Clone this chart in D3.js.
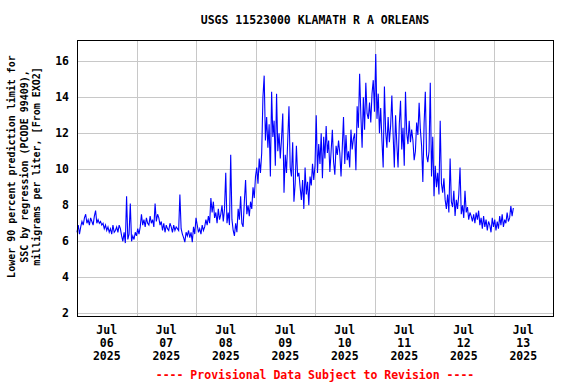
<!DOCTYPE html>
<html>
<head>
<meta charset="utf-8">
<script src="https://cdn.jsdelivr.net/npm/d3@7"></script>
<style>
  body { margin: 0; background: #fff; }
  text { font-family: "DejaVu Sans Mono", monospace; font-weight: bold; }
</style>
</head>
<body>
<div id="vis"></div>
<script>
// chart values, one reading every 30 minutes starting Jul 06 00:00
const jul06 = [6.5, 6.9, 6.4, 6.8, 7.1, 6.9, 7.3, 7.5, 7.0, 7.2, 6.9, 7.3,
               7.1, 6.9, 7.4, 7.7, 7.0, 7.2, 7.0, 7.1, 6.9, 7.0, 6.7, 6.9,
               6.6, 6.8, 6.5, 6.7, 6.4, 6.9, 6.5, 6.6, 6.8, 6.5, 6.9, 6.7,
               6.3, 6.0, 6.5, 5.9, 8.5, 6.1, 6.4, 8.1, 6.0, 6.3, 6.1, 6.5];
const jul07 = [6.3, 6.7, 6.4, 6.8, 7.5, 6.9, 7.2, 6.8, 7.3, 7.0, 6.9, 7.4,
               7.0, 7.2, 6.8, 8.1, 7.1, 7.5, 7.3, 6.9, 7.1, 6.6, 7.0, 6.5,
               6.9, 6.7, 6.6, 7.0, 6.8, 6.5, 6.9, 6.6, 6.8, 6.7, 6.6, 8.6,
               6.7, 6.4, 6.2, 5.95, 6.5, 6.3, 6.6, 6.2, 6.5, 5.95, 6.8, 6.4];
const jul08 = [7.3, 6.9, 6.5, 6.7, 6.4, 6.9, 6.6, 6.8, 7.2, 6.9, 7.4, 7.0,
               8.4, 7.6, 8.2, 7.3, 7.6, 7.0, 7.8, 7.2, 7.5, 8.0, 7.1, 7.8,
               9.8, 7.0, 7.6, 6.9, 10.8, 7.2, 6.6, 6.3, 7.0, 6.5, 7.8, 7.2,
               8.5, 7.0, 6.8, 8.2, 9.4, 7.5, 8.0, 7.4, 8.2, 7.8, 9.0, 8.4];
const jul09 = [9.6, 10.1, 9.2, 10.6, 9.8, 10.9, 14.0, 15.2, 11.6, 12.9, 11.2, 12.5,
               9.6, 14.3, 11.8, 12.7, 10.2, 14.2, 11.0, 12.0, 10.6, 11.7, 13.1, 8.7,
               10.8, 9.8, 11.6, 13.5, 10.1, 9.6, 11.5, 8.2, 9.2, 11.3, 9.6, 9.8,
               9.0, 8.3, 9.4, 7.8, 10.1, 8.6, 9.3, 8.0, 9.6, 9.1, 10.3, 9.4];
const jul10 = [10.2, 13.0, 9.8, 11.4, 10.3, 12.0, 9.5, 11.8, 10.6, 12.4, 10.9, 11.6,
               9.85, 11.0, 12.2, 10.4, 9.7, 11.3, 10.8, 11.6, 10.9, 9.6, 11.2, 12.9,
               10.3, 11.9, 10.5, 11.0, 10.1, 12.2, 11.1, 11.7, 12.0, 9.95, 13.5, 12.3,
               15.3, 13.0, 11.2, 14.0, 12.2, 14.8, 13.1, 12.8, 13.7, 12.6, 14.2, 14.95];
const jul11 = [13.2, 16.4, 12.8, 14.2, 12.0, 13.4, 11.6, 10.1, 14.6, 12.1, 11.2, 12.9,
               11.5, 12.4, 14.1, 12.0, 10.1, 13.0, 11.4, 10.1, 12.5, 13.8, 11.1, 12.3,
               10.2, 14.3, 12.0, 11.4, 12.7, 11.5, 12.2, 11.6, 10.5, 11.0, 12.6, 11.9,
               13.7, 12.2, 11.3, 9.3, 12.5, 14.3, 10.8, 10.4, 11.0, 14.8, 9.6, 11.8];
const jul12 = [8.5, 10.2, 9.0, 9.8, 8.6, 12.7, 9.2, 8.7, 9.5, 8.3, 7.8, 8.6,
               7.6, 10.6, 8.2, 7.9, 8.8, 7.4, 8.3, 7.8, 8.6, 10.1, 7.5, 8.0,
               7.3, 8.8, 7.6, 7.9, 7.2, 7.6, 7.4, 7.1, 7.5, 7.0, 7.6, 7.2,
               7.7, 6.9, 7.3, 6.7, 7.4, 6.8, 7.2, 6.6, 7.1, 6.9, 6.5, 7.3];
const jul13 = [6.8, 7.2, 6.6, 7.1, 6.7, 7.4, 6.9, 7.5, 6.8, 7.2, 7.0, 7.6,
               7.1, 7.3, 7.95, 7.4, 7.85];

const DAY_LABELS = ["06", "07", "08", "09", "10", "11", "12", "13"];
const Y_TICKS = [2, 4, 6, 8, 10, 12, 14, 16];
const TITLE = "USGS 11523000 KLAMATH R A ORLEANS";
const Y_LABEL = ["Lower 90 percent prediction limit for",
                 "SSC by regression (PCODE 99409),",
                 "milligrams per liter, [From EXO2]"];
const FOOTER = "---- Provisional Data Subject to Revision ----";

// frame
const FRAME_WIDTH = 576;
const FRAME_HEIGHT = 384;
const PLOT = {left: 77, right: 553, top: 40, bottom: 316};

const START = Date.UTC(2025, 6, 6);
const STEP = 30 * 60 * 1000;
const values = [].concat(jul06, jul07, jul08, jul09, jul10, jul11, jul12, jul13);
const data = values.map((v, i) => ({t: new Date(START + i * STEP), v: v}));

const svg = d3.select("#vis")
              .append("svg")
              .attr("width", FRAME_WIDTH)
              .attr("height", FRAME_HEIGHT);

svg.append("rect")
   .attr("width", FRAME_WIDTH)
   .attr("height", FRAME_HEIGHT)
   .attr("fill", "#fff");

const X_SCALE = d3.scaleUtc()
                  .domain([new Date(START), new Date(Date.UTC(2025, 6, 14))])
                  .range([PLOT.left, PLOT.right]);

const Y_SCALE = d3.scaleLinear()
                  .domain([1.85, 17.18])
                  .range([PLOT.bottom, PLOT.top]);

// grid lines
const dayLines = d3.utcDay.range(new Date(Date.UTC(2025, 6, 7)), new Date(Date.UTC(2025, 6, 14)));
svg.append("g")
   .selectAll("line")
   .data(dayLines)
   .join("line")
     .attr("x1", (d) => Math.round(X_SCALE(d)) + 0.5)
     .attr("x2", (d) => Math.round(X_SCALE(d)) + 0.5)
     .attr("y1", PLOT.top)
     .attr("y2", PLOT.bottom)
     .attr("stroke", "#c8c8c8")
     .attr("stroke-width", 1);

svg.append("g")
   .selectAll("line")
   .data(Y_TICKS)
   .join("line")
     .attr("x1", PLOT.left)
     .attr("x2", PLOT.right)
     .attr("y1", (d) => Math.round(Y_SCALE(d)) + 0.5)
     .attr("y2", (d) => Math.round(Y_SCALE(d)) + 0.5)
     .attr("stroke", "#c8c8c8")
     .attr("stroke-width", 1);

// data line
const line = d3.line()
               .x((d) => X_SCALE(d.t))
               .y((d) => Y_SCALE(d.v));

svg.append("path")
   .datum(data)
   .attr("d", line)
   .attr("fill", "none")
   .attr("stroke", "#0000ff")
   .attr("stroke-width", 1.1);

// frame border
svg.append("rect")
   .attr("x", PLOT.left + 0.5)
   .attr("y", PLOT.top + 0.5)
   .attr("width", PLOT.right - PLOT.left)
   .attr("height", PLOT.bottom - PLOT.top)
   .attr("fill", "none")
   .attr("stroke", "#000")
   .attr("stroke-width", 1);

// y tick labels
svg.append("g")
   .selectAll("text")
   .data(Y_TICKS)
   .join("text")
     .attr("x", 69)
     .attr("y", (d) => Y_SCALE(d) + 4)
     .attr("text-anchor", "end")
     .attr("font-size", "11.5px")
     .text((d) => d);

// x tick labels, centred at noon of each day
const noons = DAY_LABELS.map((d, i) => new Date(START + i * 86400000 + 43200000));
const xLab = svg.append("g")
                .selectAll("text")
                .data(noons)
                .join("text")
                  .attr("text-anchor", "middle")
                  .attr("font-size", "11.5px");
xLab.append("tspan").attr("x", (d) => X_SCALE(d)).attr("y", 334).text("Jul");
xLab.append("tspan").attr("x", (d) => X_SCALE(d)).attr("y", 347).text((d, i) => DAY_LABELS[i]);
xLab.append("tspan").attr("x", (d) => X_SCALE(d)).attr("y", 360).text("2025");

// title
svg.append("text")
   .attr("x", (PLOT.left + PLOT.right) / 2)
   .attr("y", 24)
   .attr("text-anchor", "middle")
   .attr("font-size", "11.5px")
   .text(TITLE);

// y axis label
svg.append("g")
   .selectAll("text")
   .data(Y_LABEL)
   .join("text")
     .attr("transform", (d, i) => "translate(" + (15 + i * 12.5) + ", 166.5) rotate(-90)")
     .attr("text-anchor", "middle")
     .attr("font-size", "10px")
     .text((d) => d);

// footer
svg.append("text")
   .attr("x", (PLOT.left + PLOT.right) / 2)
   .attr("y", 379)
   .attr("text-anchor", "middle")
   .attr("font-size", "11.5px")
   .attr("fill", "#ff0000")
   .text(FOOTER);
</script>
</body>
</html>
